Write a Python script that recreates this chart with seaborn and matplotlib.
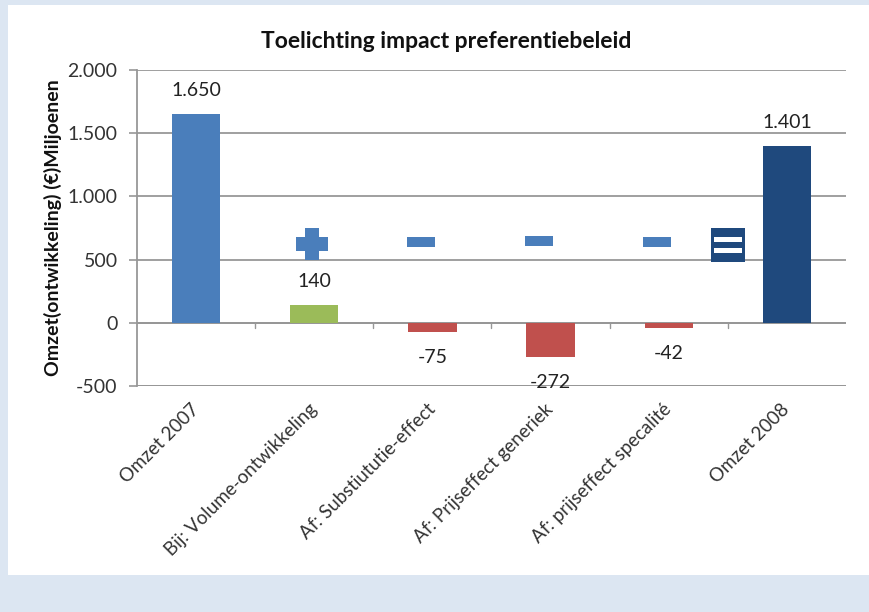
import matplotlib
matplotlib.use("Agg")
import matplotlib.pyplot as plt
import seaborn as sns
from matplotlib.patches import Rectangle
from matplotlib.path import Path
from matplotlib.ticker import FuncFormatter

# data
categories = ["Omzet 2007", "Bij: Volume-ontwikkeling", "Af: Substiututie-effect",
              "Af: Prijseffect generiek", "Af: prijseffect specalité", "Omzet 2008"]
values = [1650, 140, -75, -272, -42, 1401]
bar_colors = ["#4a7ebb", "#9bbb59", "#c0504d", "#c0504d", "#c0504d", "#1f497d"]

# plus / minus / equals signs between the steps
sign_x = [0.98, 1.9, 2.9, 3.9, 4.5]
sign_y = [625, 640, 645, 640, 615]
sign_kind = ["plus", "minus", "minus", "minus", "equals"]

sns.set_style("white")
plt.rcParams["font.family"] = ["Lato", "DejaVu Sans"]

fig = plt.figure(figsize=(8.7, 6.12), dpi=100)
fig.patch.set_facecolor("#dce6f2")
# white chart panel
fig.patches.append(Rectangle((8 / 870, 37 / 612), 1 - 8 / 870, 570 / 612,
                             transform=fig.transFigure, facecolor="white",
                             edgecolor="none", zorder=-5))

ax = fig.add_axes([137 / 870, 1 - 386 / 612, (846 - 137) / 870, (386 - 70) / 612])
ax.set_facecolor("none")

sns.barplot(x=categories, y=values, hue=categories, palette=bar_colors,
            width=0.41, saturation=1, legend=False, ax=ax, zorder=3, linewidth=0)

ax.set_ylim(-500, 2000)
ax.set_xlim(-0.5, len(categories) - 0.5)
ax.set_yticks(range(-500, 2001, 500))
ax.yaxis.set_major_formatter(FuncFormatter(lambda v, p: f"{v:,.0f}".replace(",", ".")))
ax.grid(axis="y", color="#979797", linewidth=1.3, zorder=1)
ax.grid(axis="x", visible=False)

for s in ["top", "right", "bottom"]:
    ax.spines[s].set_visible(False)
ax.spines["left"].set_color("#979797")
ax.spines["left"].set_linewidth(1.3)
ax.axhline(0, color="#979797", linewidth=1.3, zorder=2)
ax.axhline(-500, color="#979797", linewidth=1.3, zorder=2)

# tick marks at the category boundaries, on the zero line
for b in range(1, len(categories)):
    ax.plot([b - 0.5, b - 0.5], [0, -45], color="#979797", lw=1, zorder=2)

ax.tick_params(axis="y", length=6, width=1.2, color="#979797", labelsize=14,
               pad=8, left=True, labelcolor="#333333")
ax.tick_params(axis="x", length=0, labelsize=13.5, pad=15, labelcolor="#333333")
for lab in ax.get_xticklabels():
    lab.set_rotation(45)
    lab.set_ha("right")
    lab.set_rotation_mode("anchor")
    lab.set_va("center")

# data labels
for i, v in enumerate(values):
    txt = f"{v:,}".replace(",", ".")
    off = 17 if v > 0 else -18
    ax.annotate(txt, (i, v), xytext=(0, off), textcoords="offset points",
                ha="center", va="center", fontsize=14, color="#222222", zorder=4)

# sign markers
a = 0.44
plus_marker = [(-a, 1), (a, 1), (a, a), (1, a), (1, -a), (a, -a), (a, -1),
               (-a, -1), (-a, -a), (-1, -a), (-1, a), (-a, a)]
minus_marker = [(-1, -0.38), (1, -0.38), (1, 0.38), (-1, 0.38)]
stripe_codes = [Path.MOVETO, Path.LINETO, Path.LINETO, Path.LINETO, Path.CLOSEPOLY] * 2
stripe_verts = [(-1, 0.2), (1, 0.2), (1, 0.56), (-1, 0.56), (-1, 0.2),
                (-1, -0.56), (1, -0.56), (1, -0.2), (-1, -0.2), (-1, -0.56)]
stripes_marker = Path(stripe_verts, stripe_codes)
for x, y, k in zip(sign_x, sign_y, sign_kind):
    if k == "plus":
        ax.scatter([x], [y], marker=plus_marker, s=540, color="#4a7ebb", zorder=4, linewidths=0)
    elif k == "minus":
        ax.scatter([x], [y], marker=minus_marker, s=420, color="#4a7ebb", zorder=4, linewidths=0)
    else:
        ax.scatter([x], [y], marker="s", s=620, color="#1f497d", zorder=4, linewidths=0)
        ax.scatter([x], [y], marker=stripes_marker, s=390, color="white", zorder=5, linewidths=0)

fig.text(446 / 870, 1 - 42 / 612, "Toelichting impact preferentiebeleid",
         fontsize=16.5, fontweight="bold", ha="center", va="center", color="#111111")
ax.set_ylabel("Omzet(ontwikkeling) (€)Miljoenen", fontsize=14, fontweight="bold",
              labelpad=4, color="#111111")

fig.savefig("out.png", dpi=100, facecolor=fig.get_facecolor())
